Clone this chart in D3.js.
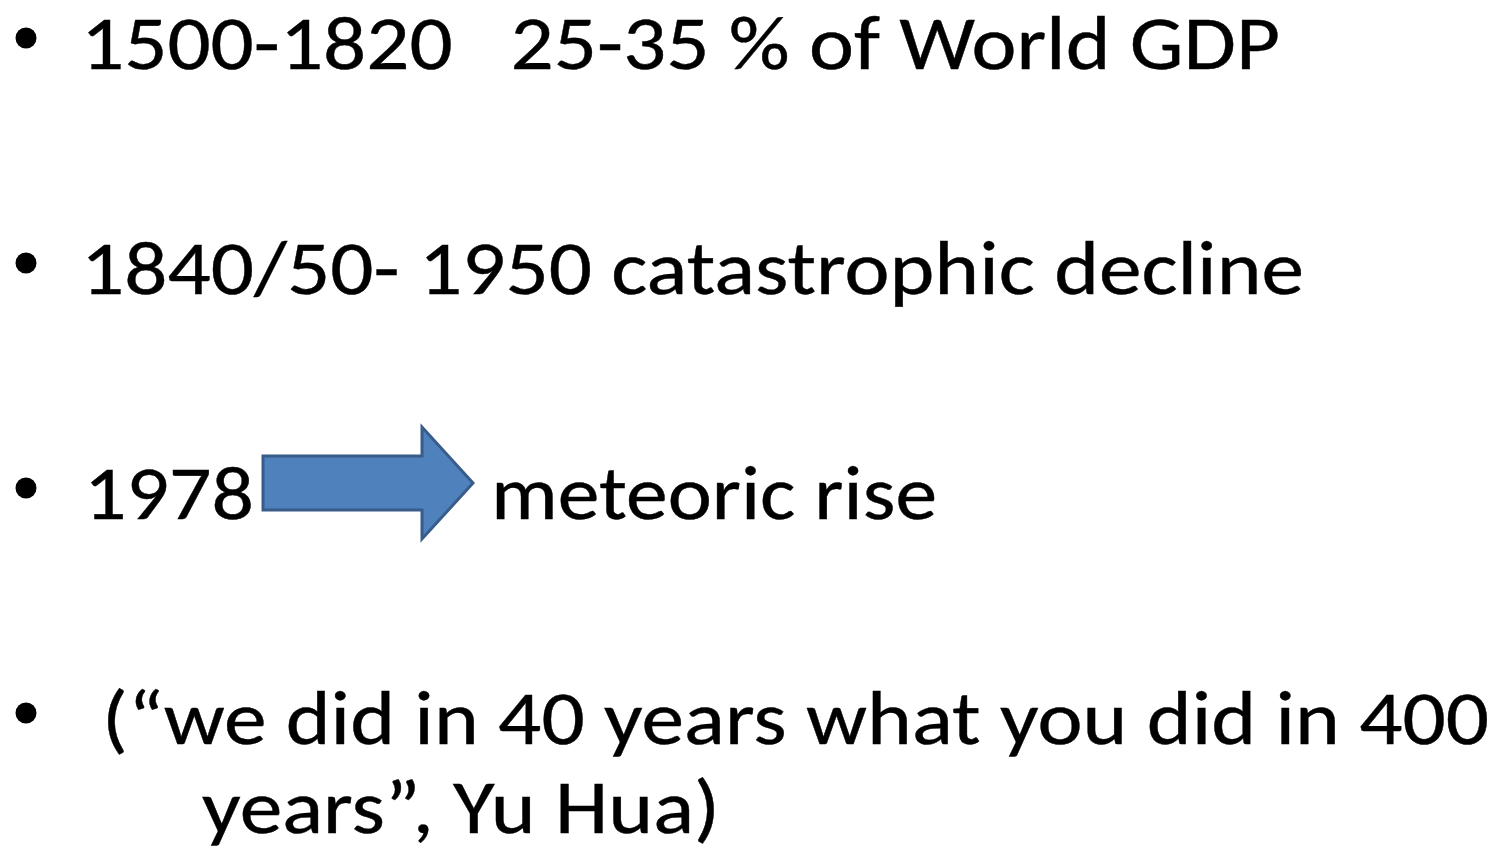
<!DOCTYPE html>
<html>
<head>
<meta charset="utf-8">
<script src="https://cdn.jsdelivr.net/npm/d3@7"></script>
<style>
  body { margin: 0; background: #fff; }
  svg text { font-family: Carlito, Lato, sans-serif; white-space: pre; fill: #000; stroke: #000; stroke-width: 0.4px; }
</style>
</head>
<body>
<script>
// slide text
var bullets = [
  "1500-1820   25-35 % of World GDP",
  "1840/50- 1950 catastrophic decline",
  "1978",
  "(\u201cwe did in 40 years what you did in 400"
];
var continuation = "years\u201d, Yu Hua)";
var arrowLabel = "meteoric rise";

var width = 1495,
    height = 849;

var svg = d3.select('body')
    .append('svg')
    .attr('width', width)
    .attr('height', height);

// baseline of each bullet
var y = d3.scaleLinear().domain([0, 3]).range([69, 744]);
var fontSize = 77;

// left/right edges of the text runs in the slide
var spans = [[81, 1280], [81, 1304], [84, 254], [102, 1489]];

function fit(sel, x0, x1) {
  sel.attr('x', x0)
     .attr('textLength', x1 - x0)
     .attr('lengthAdjust', 'spacingAndGlyphs');
}

var rows = svg.selectAll('g.row')
    .data(bullets)
    .enter()
    .append('g')
    .attr('class', 'row');

rows.append('circle')
    .attr('cx', 26)
    .attr('cy', (d, i) => y(i) - 31)
    .attr('r', 10.5)
    .attr('fill', '#000');

rows.append('text')
    .attr('y', (d, i) => y(i))
    .attr('font-size', fontSize)
    .text(d => d)
    .each(function(d, i) { fit(d3.select(this), spans[i][0], spans[i][1]); });

// wrapped second line of the last bullet
svg.append('text')
    .attr('y', y(3) + 89)
    .attr('font-size', fontSize)
    .text(continuation)
    .call(fit, 202, 720);

// arrow after "1978"
var ay = y(2) - 36;
var ax0 = 263, ax1 = 422, ax2 = 473;
var shaft = 27, head = 56;
var arrowPts = [
  [ax0, ay - shaft], [ax1, ay - shaft], [ax1, ay - head], [ax2, ay],
  [ax1, ay + head], [ax1, ay + shaft], [ax0, ay + shaft]
];
svg.append('path')
    .attr('d', d3.line()(arrowPts) + 'Z')
    .attr('fill', '#4F81BD')
    .attr('stroke', '#385D8A')
    .attr('stroke-width', 3)
    .attr('stroke-linejoin', 'miter');

svg.append('text')
    .attr('y', y(2))
    .attr('font-size', fontSize)
    .text(arrowLabel)
    .call(fit, 491, 937);
</script>
</body>
</html>
